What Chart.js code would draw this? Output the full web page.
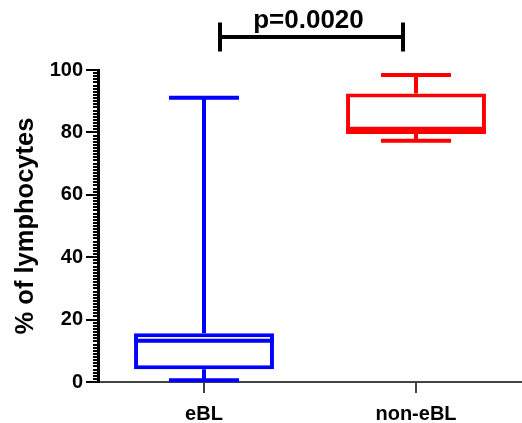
<!DOCTYPE html>
<html>
<head>
<meta charset="utf-8">
<script src="https://cdn.jsdelivr.net/npm/chart.js@4.4.1/dist/chart.umd.min.js"></script>
<style>
  html, body { margin: 0; padding: 0; background: #fff; }
  #wrap { width: 522px; height: 423px; position: relative; }
</style>
</head>
<body>
<div id="wrap"><canvas id="chart"></canvas></div>
<script>
const categories = ['eBL', 'non-eBL'];
const whiskerLow = [0.6, 77.3];
const q1 = [4.1, 79.5];
const median = [13.2, 81.2];
const q3 = [15.6, 92.5];
const whiskerHigh = [91.1, 98.4];
const boxColors = ['#0000ff', '#ff0000'];
const pLabel = 'p=0.0020';
const bracketValue = 110.6;

const FONT = "'Liberation Sans', Arial, sans-serif";

// whiskers, caps and median drawn on top of the floating bars
const whiskerPlugin = {
    id: 'whiskers',
    afterDatasetsDraw(chart) {
        const ctx = chart.ctx;
        const y = chart.scales.y;
        const meta = chart.getDatasetMeta(0);
        ctx.save();
        meta.data.forEach((bar, i) => {
            const cx = bar.x;
            const half = bar.width / 2;
            const cap = bar.width / 4;
            ctx.strokeStyle = boxColors[i];
            ctx.lineWidth = 4;
            ctx.beginPath();
            ctx.moveTo(cx, y.getPixelForValue(q3[i]));
            ctx.lineTo(cx, y.getPixelForValue(whiskerHigh[i]));
            ctx.moveTo(cx, y.getPixelForValue(q1[i]));
            ctx.lineTo(cx, y.getPixelForValue(whiskerLow[i]));
            ctx.moveTo(cx - cap, y.getPixelForValue(whiskerHigh[i]));
            ctx.lineTo(cx + cap, y.getPixelForValue(whiskerHigh[i]));
            ctx.moveTo(cx - cap, y.getPixelForValue(whiskerLow[i]));
            ctx.lineTo(cx + cap, y.getPixelForValue(whiskerLow[i]));
            ctx.stroke();
            ctx.beginPath();
            ctx.moveTo(cx - half, y.getPixelForValue(median[i]));
            ctx.lineTo(cx + half, y.getPixelForValue(median[i]));
            ctx.stroke();
        });
        ctx.restore();
    }
};

// significance bracket above the boxes
const bracketPlugin = {
    id: 'bracket',
    afterDraw(chart) {
        const ctx = chart.ctx;
        const xs = chart.scales.x;
        const x1 = xs.getPixelForValue(0) + 16;
        const x2 = xs.getPixelForValue(1) - 13;
        const by = chart.scales.y.getPixelForValue(bracketValue);
        ctx.save();
        ctx.strokeStyle = '#000';
        ctx.lineWidth = 4;
        ctx.beginPath();
        ctx.moveTo(x1, by);
        ctx.lineTo(x2, by);
        ctx.moveTo(x1, by - 14.5);
        ctx.lineTo(x1, by + 14.5);
        ctx.moveTo(x2, by - 14.5);
        ctx.lineTo(x2, by + 14.5);
        ctx.stroke();
        ctx.fillStyle = '#000';
        ctx.font = 'bold 26px ' + FONT;
        ctx.textAlign = 'center';
        ctx.textBaseline = 'alphabetic';
        ctx.fillText(pLabel, (x1 + x2) / 2 - 3, by - 9);
        ctx.restore();
    }
};

const ctx = document.getElementById('chart').getContext('2d');
const chart = new Chart(ctx, {
    type: 'bar',
    data: {
        labels: categories,
        datasets: [{
            data: categories.map((c, i) => [q1[i], q3[i]]),
            backgroundColor: '#ffffff',
            borderColor: boxColors,
            borderWidth: 4,
            borderSkipped: false,
            barPercentage: 0.66,
            categoryPercentage: 1
        }]
    },
    options: {
        responsive: true,
        maintainAspectRatio: false,
        animation: false,
        events: [],
        layout: {
            padding: { top: 70, left: 0, right: 0, bottom: 0 }
        },
        scales: {
            x: {
                ticks: {
                    color: '#000',
                    padding: 9,
                    font: { family: FONT, size: 20, weight: 'bold' }
                },
                grid: {
                    offset: false,
                    drawOnChartArea: false,
                    tickLength: 11,
                    lineWidth: 2,
                    color: '#444'
                },
                border: { color: '#444', width: 2 },
                afterFit(s) { s.height = 41; }
            },
            y: {
                min: 0,
                max: 100,
                weight: 1,
                ticks: {
                    stepSize: 20,
                    color: '#000',
                    padding: 3,
                    font: { family: FONT, size: 20, weight: 'bold' }
                },
                grid: {
                    drawOnChartArea: false,
                    tickLength: 12,
                    lineWidth: 2,
                    color: '#000'
                },
                border: { color: '#000', width: 3 },
                title: {
                    display: true,
                    text: '% of lymphocytes',
                    color: '#000',
                    padding: { top: 11, bottom: 0 },
                    font: { family: FONT, size: 25.5, weight: 'bold' }
                },
                afterFit(s) { s.width = 98; }
            },
            yMinor: {
                type: 'linear',
                position: 'left',
                min: 0,
                max: 100,
                weight: 0,
                ticks: { display: false, stepSize: 1 },
                grid: {
                    drawOnChartArea: false,
                    tickLength: 5,
                    lineWidth: 2,
                    color: '#000'
                },
                border: { display: false },
                afterFit(s) { s.width = 0; }
            }
        },
        plugins: {
            legend: { display: false },
            tooltip: { enabled: false }
        }
    },
    plugins: [whiskerPlugin, bracketPlugin]
});
</script>
</body>
</html>
